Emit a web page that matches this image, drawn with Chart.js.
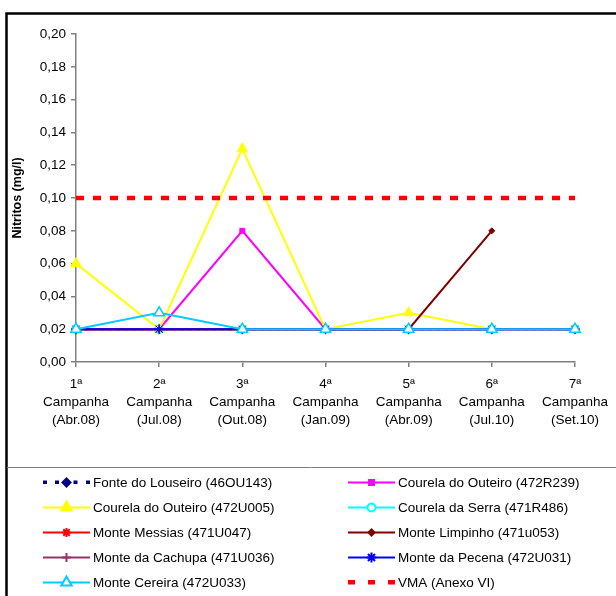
<!DOCTYPE html>
<html>
<head>
<meta charset="utf-8">
<script src="https://cdn.jsdelivr.net/npm/chart.js@4"></script>
<style>
  html, body { margin: 0; padding: 0; background: #fff; }
  #wrap { position: relative; width: 616px; height: 596px; }
  canvas { display: block; }
</style>
</head>
<body>
<div id="wrap"><canvas id="c" width="616" height="596"></canvas></div>
<script>
// Campaign labels (x axis)
const campanhas = [
  ['1ª', 'Campanha', '(Abr.08)'],
  ['2ª', 'Campanha', '(Jul.08)'],
  ['3ª', 'Campanha', '(Out.08)'],
  ['4ª', 'Campanha', '(Jan.09)'],
  ['5ª', 'Campanha', '(Abr.09)'],
  ['6ª', 'Campanha', '(Jul.10)'],
  ['7ª', 'Campanha', '(Set.10)']
];

// Nitrite concentrations (mg/l) per monitoring point
const fonteLouseiro   = [0.02, 0.02, 0.02, 0.02, 0.02, 0.02, 0.02];
const courela472R239  = [0.02, 0.02, 0.08, 0.02, 0.02, 0.02, 0.02];
const courela472U005  = [0.06, 0.02, 0.13, 0.02, 0.03, 0.02, 0.02];
const courelaSerra    = [0.02, 0.02, 0.02, 0.02, 0.02, 0.02, 0.02];
const monteMessias    = [0.02, 0.02, 0.02, 0.02, 0.02, 0.02, 0.02];
const monteLimpinho   = [0.02, 0.02, 0.02, 0.02, 0.02, 0.08, null];
const monteCachupa    = [0.02, 0.02, 0.02, 0.02, 0.02, 0.02, 0.02];
const montePecena     = [0.02, 0.02, 0.02, 0.02, 0.02, 0.02, 0.02];
const monteCereira    = [0.02, 0.03, 0.02, 0.02, 0.02, 0.02, 0.02];
const vma             = [0.10, 0.10, 0.10, 0.10, 0.10, 0.10, 0.10];

// Y axis range
const yMin = 0, yMax = 0.20, yStep = 0.02;

const FONT = 'Liberation Sans, Arial, sans-serif';
const TEXT_SIZE = 13.5;

function series(label, data, color, opts) {
  return Object.assign({
    label: label,
    data: data,
    borderColor: color,
    backgroundColor: color,
    pointBackgroundColor: color,
    pointBorderColor: color,
    borderWidth: 2,
    pointRadius: 4,
    pointHoverRadius: 4,
    pointBorderWidth: 1,
    tension: 0,
    spanGaps: false
  }, opts || {});
}

const datasets = [
  series('Fonte do Louseiro (46OU143)', fonteLouseiro, '#000080', { pointStyle: 'rectRot', borderDash: [4, 4] }),
  series('Courela do Outeiro (472R239)', courela472R239, '#FF00FF', { pointStyle: 'rect', pointRadius: 3.5 }),
  series('Courela do Outeiro (472U005)', courela472U005, '#FFFF00', { pointStyle: 'triangle', pointRadius: 6 }),
  series('Courela da Serra (471R486)', courelaSerra, '#00FFFF', { pointStyle: 'circle', pointBackgroundColor: '#FFFFFF', pointBorderWidth: 1.5 }),
  series('Monte Messias (471U047)', monteMessias, '#FF0000', { pointStyle: 'star', pointRadius: 4.5 }),
  series('Monte Limpinho (471u053)', monteLimpinho, '#800000', { pointStyle: 'rectRot', pointRadius: 3 }),
  series('Monte da Cachupa (471U036)', monteCachupa, '#993366', { pointStyle: 'cross', pointRadius: 4.5 }),
  series('Monte da Pecena (472U031)', montePecena, '#0000FF', { pointStyle: 'star', pointRadius: 5 }),
  series('Monte Cereira (472U033)', monteCereira, '#00CCFF', { pointStyle: 'triangle', pointRadius: 6, pointBackgroundColor: '#FFFFFF', pointBorderWidth: 1.5 }),
  series('VMA (Anexo VI)', vma, '#FF0000', { pointRadius: 0, borderWidth: 4.5, borderDash: [8, 9], borderCapStyle: 'butt' })
];
// later series are painted over earlier ones
datasets.forEach((d, i) => { d.order = datasets.length - i; });

// Outer frame and legend box
const framePlugin = {
  id: 'frame',
  beforeDraw(chart) {
    const ctx = chart.ctx;
    ctx.save();
    ctx.fillStyle = '#fff';
    ctx.fillRect(0, 0, chart.width, chart.height);
    ctx.restore();
  },
  afterDraw(chart) {
    const ctx = chart.ctx;
    ctx.save();
    ctx.strokeStyle = '#000';
    ctx.lineWidth = 2.5;
    ctx.beginPath();
    ctx.moveTo(6.5, chart.height + 5);
    ctx.lineTo(6.5, 13.5);
    ctx.lineTo(chart.width + 5, 13.5);
    ctx.stroke();
    ctx.strokeStyle = '#7f7f7f';
    ctx.lineWidth = 1;
    ctx.beginPath();
    ctx.moveTo(7, 467.5);
    ctx.lineTo(chart.width, 467.5);
    ctx.stroke();
    ctx.restore();
  }
};

// Two-column legend with line + marker samples
const legendPlugin = {
  id: 'twoColLegend',
  afterDraw(chart) {
    const ctx = chart.ctx;
    const cols = [{ x0: 43, x1: 90, tx: 93 }, { x0: 348, x1: 395, tx: 398 }];
    const rowY = [482, 507, 532, 557, 582];
    chart.data.datasets.forEach((ds, i) => {
      const c = cols[i % 2];
      const y = rowY[Math.floor(i / 2)];
      const mid = (c.x0 + c.x1) / 2;
      ctx.save();
      ctx.strokeStyle = ds.borderColor;
      ctx.lineWidth = ds.borderWidth;
      ctx.lineCap = 'butt';
      if (ds.label.startsWith('VMA')) {
        ctx.fillStyle = ds.borderColor;
        [c.x0, c.x0 + 20, c.x1 - 7].forEach(x => ctx.fillRect(x, y - 2, 7, 4.5));
      } else {
        if (ds.borderDash) {
          ctx.fillStyle = ds.borderColor;
          [c.x0, c.x0 + 12, mid + 7, c.x1 - 4].forEach(x => ctx.fillRect(x, y - 1.5, 4, 3.5));
        } else {
          ctx.beginPath();
          ctx.moveTo(c.x0, y + 0.5);
          ctx.lineTo(c.x1, y + 0.5);
          ctx.stroke();
        }
        ctx.fillStyle = ds.pointBackgroundColor;
        ctx.strokeStyle = ds.pointBorderColor;
        Chart.helpers.drawPoint(ctx, {
          pointStyle: ds.pointStyle,
          radius: ds.pointRadius,
          borderWidth: ds.pointBorderWidth,
          rotation: 0
        }, mid, y + 0.5);
      }
      ctx.fillStyle = '#000';
      ctx.font = TEXT_SIZE + 'px ' + FONT;
      ctx.textBaseline = 'middle';
      ctx.textAlign = 'left';
      ctx.fillText(ds.label, c.tx, y + 1);
      ctx.restore();
    });
  }
};

new Chart(document.getElementById('c'), {
  type: 'line',
  data: { labels: campanhas, datasets: datasets },
  options: {
    responsive: false,
    animation: false,
    events: [],
    layout: { padding: { left: 0, right: 38, top: 34, bottom: 129 } },
    plugins: { legend: { display: false }, tooltip: { enabled: false } },
    scales: {
      x: {
        type: 'category',
        offset: false,
        grid: { drawOnChartArea: false, drawTicks: true, tickLength: 5, color: '#808080', lineWidth: 1.5 },
        border: { color: '#808080', width: 1.5 },
        ticks: {
          color: '#000', maxRotation: 0, minRotation: 0, autoSkip: false, padding: 8,
          font: { family: FONT, size: TEXT_SIZE, lineHeight: 1.35 }
        },
        afterFit(scale) { scale.height = 105; }
      },
      y: {
        min: yMin, max: yMax,
        grid: { drawOnChartArea: false, drawTicks: true, tickLength: 5, color: '#808080', lineWidth: 1.5 },
        border: { color: '#808080', width: 1.5 },
        ticks: {
          stepSize: yStep, color: '#000', padding: 5,
          font: { family: FONT, size: TEXT_SIZE },
          callback: v => v.toFixed(2).replace('.', ',')
        },
        title: {
          display: true, text: 'Nitritos (mg/l)', color: '#000',
          font: { family: FONT, size: 12.5, weight: 'bold' },
          padding: { top: 10, bottom: 0 }
        },
        afterFit(scale) { scale.width = 76; }
      }
    }
  },
  plugins: [framePlugin, legendPlugin]
});
</script>
</body>
</html>
